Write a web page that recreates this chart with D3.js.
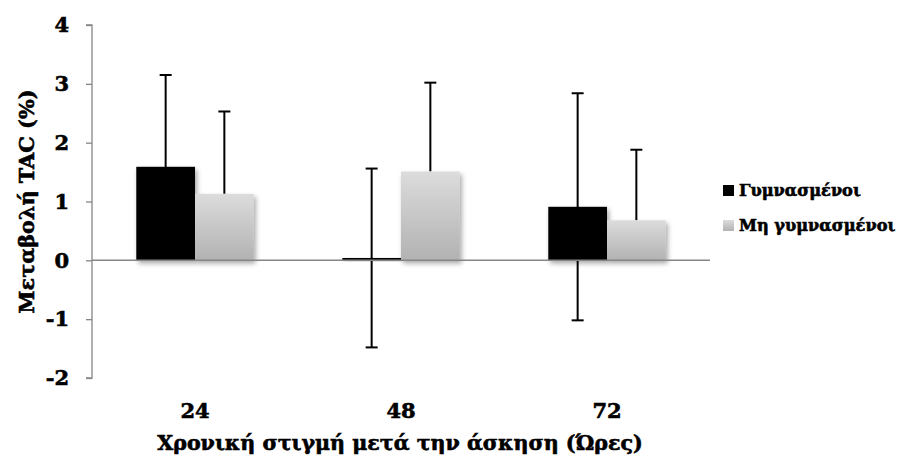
<!DOCTYPE html>
<html>
<head>
<meta charset="utf-8">
<script src="https://cdn.jsdelivr.net/npm/d3@7"></script>
<style>
  html, body { margin: 0; padding: 0; background: #fff; }
  svg text { font-family: "DejaVu Serif", "Liberation Serif", serif; font-weight: bold; fill: #000; stroke: #000; stroke-width: 0.6px; }
</style>
</head>
<body>
<svg id="chart" width="904" height="463"></svg>
<script>
// ---- data ----
const categories = ["24", "48", "72"];
const seriesNames = ["Γυμνασμένοι", "Μη γυμνασμένοι"];
const trainedValues = [1.59, 0.04, 0.91];
const trainedErrors = [1.56, 1.52, 1.93];
const untrainedValues = [1.13, 1.51, 0.68];
const untrainedErrors = [1.40, 1.51, 1.20];
const yTicks = [-2, -1, 0, 1, 2, 3, 4];
const yTitle = "Μεταβολή TAC (%)";
const xTitle = "Χρονική στιγμή μετά την άσκηση (Ώρες)";

const svg = d3.select("#chart");
const defs = svg.append("defs");

const grad = defs.append("linearGradient").attr("id", "grayGrad")
  .attr("x1", 0).attr("y1", 0).attr("x2", 0).attr("y2", 1);
grad.append("stop").attr("offset", "0%").attr("stop-color", "#dcdcdc");
grad.append("stop").attr("offset", "100%").attr("stop-color", "#b2b2b2");

const shadow = defs.append("filter").attr("id", "shadow")
  .attr("x", "-20%").attr("y", "-20%").attr("width", "150%").attr("height", "150%");
shadow.append("feDropShadow").attr("dx", 2).attr("dy", 3).attr("stdDeviation", 2.5)
  .attr("flood-color", "#000").attr("flood-opacity", 0.35);

const y = d3.scaleLinear().domain([-2, 4]).range([378, 25]);
const x0 = d3.scaleBand().domain(categories).range([92, 710]).paddingInner(0.43).paddingOuter(0.215);
const x1 = d3.scaleBand().domain(seriesNames).range([0, x0.bandwidth()]);

const series = [
  { name: seriesNames[0], values: trainedValues, errors: trainedErrors, fill: "#000", both: true },
  { name: seriesNames[1], values: untrainedValues, errors: untrainedErrors, fill: "url(#grayGrad)", both: false }
];

// y axis
const yAxis = d3.axisLeft(y).tickValues(yTicks).tickSize(6).tickPadding(17).tickFormat(d => String(d));
const gy = svg.append("g").attr("transform", "translate(92,0)").call(yAxis);
gy.select(".domain").attr("stroke", "#868686").attr("stroke-width", 1.3).attr("d", `M-6,${y(4)}H0V${y(-2)}H-6`);
gy.selectAll(".tick line").attr("stroke", "#868686").attr("stroke-width", 1.3);
gy.selectAll(".tick text").style("font-size", "21px").style("font-family", "DejaVu Serif").style("font-weight", "bold");

// error bars (drawn beneath bars)
series.forEach(s => {
  const g = svg.append("g").attr("stroke", "#000").attr("stroke-width", 2);
  categories.forEach((c, i) => {
    const cx = x0(c) + x1(s.name) + x1.bandwidth() / 2;
    const top = s.values[i] + s.errors[i];
    const bot = s.both ? s.values[i] - s.errors[i] : s.values[i];
    g.append("line").attr("x1", cx).attr("x2", cx).attr("y1", y(top)).attr("y2", y(bot));
    g.append("line").attr("x1", cx - 6).attr("x2", cx + 6).attr("y1", y(top)).attr("y2", y(top));
    if (s.both) g.append("line").attr("x1", cx - 6).attr("x2", cx + 6).attr("y1", y(bot)).attr("y2", y(bot));
  });
});

// bars
series.forEach(s => {
  svg.append("g").selectAll("rect").data(categories).join("rect")
    .attr("x", (c) => x0(c) + x1(s.name))
    .attr("width", x1.bandwidth())
    .attr("y", (c, i) => y(Math.max(0, s.values[i])))
    .attr("height", (c, i) => Math.abs(y(s.values[i]) - y(0)))
    .attr("fill", s.fill)
    .attr("filter", "url(#shadow)");
});

// zero line
svg.append("line").attr("x1", 92).attr("x2", 710).attr("y1", y(0)).attr("y2", y(0))
  .attr("stroke", "#868686").attr("stroke-width", 1.5);

// category labels
svg.append("g").selectAll("text").data(categories).join("text")
  .attr("x", c => x0(c) + x0.bandwidth() / 2)
  .attr("y", 418)
  .attr("text-anchor", "middle")
  .style("font-size", "21px")
  .text(d => d);

// axis titles
svg.append("text").attr("x", 400).attr("y", 450).attr("text-anchor", "middle")
  .style("font-size", "20.6px").text(xTitle);
svg.append("text").attr("transform", `translate(34,${(y(4) + y(-2)) / 2}) rotate(-90)`)
  .attr("text-anchor", "middle").style("font-size", "20.8px").text(yTitle);

// legend
const leg = svg.append("g");
series.forEach((s, i) => {
  const ly = 185 + i * 35;
  leg.append("rect").attr("x", 723).attr("y", ly).attr("width", 11).attr("height", 11).attr("fill", s.fill);
  leg.append("text").attr("x", 739).attr("y", ly + 11).style("font-size", "16.2px").text(s.name);
});
</script>
</body>
</html>
